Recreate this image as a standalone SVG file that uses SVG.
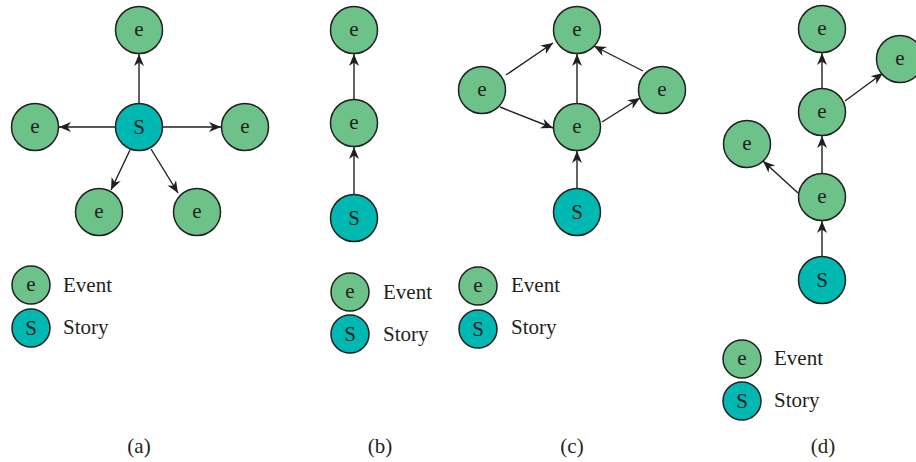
<svg xmlns="http://www.w3.org/2000/svg" width="916" height="462" viewBox="0 0 916 462">
<style>
.ev{fill:#6cc288;stroke:#231f20;stroke-width:1.5}
.st{fill:#00b8b2;stroke:#231f20;stroke-width:1.5}
.t{font-family:"Liberation Serif","Times New Roman",serif;font-size:21px;fill:#231f20}
.c{text-anchor:middle}
.ln{stroke:#231f20;stroke-width:1.4;fill:none;marker-end:url(#ah)}
</style>
<defs>
<marker id="ah" markerUnits="userSpaceOnUse" markerWidth="13" markerHeight="11" refX="12" refY="5" orient="auto">
<path d="M0,0 L12,5 L0,10 L3.5,5 Z" fill="#231f20"/>
</marker>
</defs>
<rect width="916" height="462" fill="#fff"/>
<g id="connectors">
<line class="ln" x1="139" y1="103" x2="139" y2="54"/>
<line class="ln" x1="115" y1="127" x2="59" y2="127"/>
<line class="ln" x1="163" y1="127" x2="221" y2="127"/>
<line class="ln" x1="130" y1="150" x2="111" y2="190"/>
<line class="ln" x1="151" y1="149" x2="178" y2="193"/>
<line class="ln" x1="354" y1="194" x2="354" y2="147"/>
<line class="ln" x1="354" y1="99" x2="354" y2="54"/>
<line class="ln" x1="506" y1="75" x2="553" y2="43"/>
<line class="ln" x1="500" y1="107" x2="553" y2="128"/>
<line class="ln" x1="577" y1="103" x2="577" y2="54"/>
<line class="ln" x1="602" y1="122" x2="640" y2="98"/>
<line class="ln" x1="643" y1="71" x2="594" y2="46"/>
<line class="ln" x1="577" y1="188" x2="577" y2="151"/>
<line class="ln" x1="822" y1="88" x2="822" y2="53"/>
<line class="ln" x1="845" y1="101" x2="883" y2="73"/>
<line class="ln" x1="822" y1="173" x2="822" y2="136"/>
<line class="ln" x1="798" y1="193" x2="763" y2="161"/>
<line class="ln" x1="822" y1="256" x2="822" y2="221"/>
</g>
<g id="a-top"><circle class="ev" cx="139" cy="30" r="23.5"/><text class="t c" x="139" y="36">e</text></g>
<g id="a-story"><circle class="st" cx="139" cy="127" r="23.5"/><text class="t c" x="139" y="134">S</text></g>
<g id="a-left"><circle class="ev" cx="35" cy="127" r="23.5"/><text class="t c" x="35" y="133">e</text></g>
<g id="a-right"><circle class="ev" cx="245" cy="127" r="23.5"/><text class="t c" x="245" y="133">e</text></g>
<g id="a-bl"><circle class="ev" cx="99" cy="212" r="23.5"/><text class="t c" x="99" y="218">e</text></g>
<g id="a-br"><circle class="ev" cx="197" cy="212" r="23.5"/><text class="t c" x="197" y="218">e</text></g>
<g id="a-legend">
<circle class="ev" cx="31" cy="285" r="19"/><text class="t c" x="31" y="291">e</text>
<text class="t" x="63" y="292">Event</text>
<circle class="st" cx="31" cy="328" r="19"/><text class="t c" x="31" y="335">S</text>
<text class="t" x="63" y="334">Story</text>
</g>
<text class="t c" x="139" y="453">(a)</text>
<g id="b-top"><circle class="ev" cx="354" cy="30" r="23.5"/><text class="t c" x="354" y="36">e</text></g>
<g id="b-mid"><circle class="ev" cx="354" cy="123" r="23.5"/><text class="t c" x="354" y="129">e</text></g>
<g id="b-story"><circle class="st" cx="354" cy="218" r="23.5"/><text class="t c" x="354" y="225">S</text></g>
<g id="b-legend">
<circle class="ev" cx="350" cy="292" r="19"/><text class="t c" x="350" y="298">e</text>
<text class="t" x="383" y="299">Event</text>
<circle class="st" cx="350" cy="334" r="19"/><text class="t c" x="350" y="341">S</text>
<text class="t" x="383" y="341">Story</text>
</g>
<text class="t c" x="380" y="453">(b)</text>
<g id="c-top"><circle class="ev" cx="577" cy="30" r="23.5"/><text class="t c" x="577" y="36">e</text></g>
<g id="c-left"><circle class="ev" cx="482" cy="90" r="23.5"/><text class="t c" x="482" y="96">e</text></g>
<g id="c-right"><circle class="ev" cx="662" cy="90" r="23.5"/><text class="t c" x="662" y="96">e</text></g>
<g id="c-mid"><circle class="ev" cx="577" cy="127" r="23.5"/><text class="t c" x="577" y="133">e</text></g>
<g id="c-story"><circle class="st" cx="577" cy="212" r="23.5"/><text class="t c" x="577" y="219">S</text></g>
<g id="c-legend">
<circle class="ev" cx="478" cy="286" r="19"/><text class="t c" x="478" y="292">e</text>
<text class="t" x="511" y="292">Event</text>
<circle class="st" cx="478" cy="329" r="19"/><text class="t c" x="478" y="336">S</text>
<text class="t" x="511" y="334">Story</text>
</g>
<text class="t c" x="572" y="453">(c)</text>
<g id="d-top"><circle class="ev" cx="822" cy="29" r="23.5"/><text class="t c" x="822" y="35">e</text></g>
<g id="d-right"><circle class="ev" cx="900" cy="59" r="23.5"/><text class="t c" x="900" y="65">e</text></g>
<g id="d-mid"><circle class="ev" cx="822" cy="112" r="23.5"/><text class="t c" x="822" y="118">e</text></g>
<g id="d-left"><circle class="ev" cx="747" cy="144" r="23.5"/><text class="t c" x="747" y="150">e</text></g>
<g id="d-low"><circle class="ev" cx="822" cy="197" r="23.5"/><text class="t c" x="822" y="203">e</text></g>
<g id="d-story"><circle class="st" cx="822" cy="280" r="23.5"/><text class="t c" x="822" y="287">S</text></g>
<g id="d-legend">
<circle class="ev" cx="742" cy="359" r="19"/><text class="t c" x="742" y="365">e</text>
<text class="t" x="774" y="365">Event</text>
<circle class="st" cx="742" cy="401" r="19"/><text class="t c" x="742" y="408">S</text>
<text class="t" x="774" y="407">Story</text>
</g>
<text class="t c" x="823" y="453">(d)</text>
</svg>
